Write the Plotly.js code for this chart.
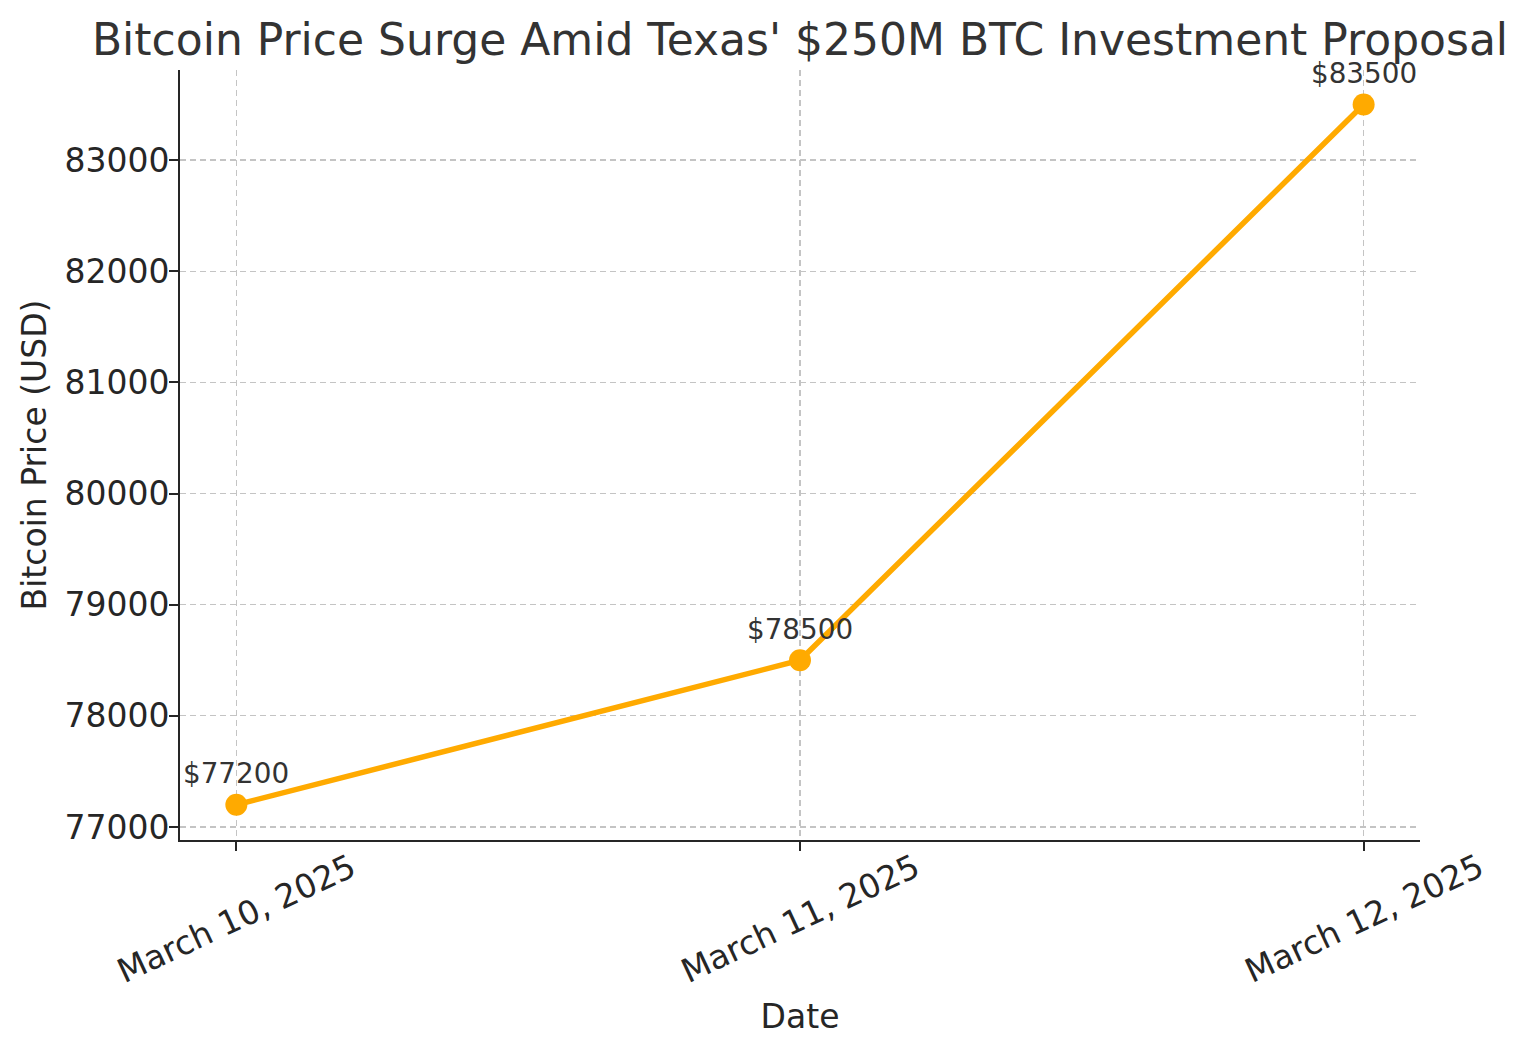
<!DOCTYPE html>
<html>
<head>
<meta charset="utf-8">
<script src="https://cdn.plot.ly/plotly-3.0.1.min.js"></script>
<style>
  html, body { margin: 0; padding: 0; background: #fff; }
  #chart { width: 1536px; height: 1054px; }
</style>
</head>
<body>
<div id="chart"></div>
<script>
const dates = ["March 10, 2025", "March 11, 2025", "March 12, 2025"];
const prices = [77200, 78500, 83500];
const yTicks = [77000, 78000, 79000, 80000, 81000, 82000, 83000];

const lineColor = "#FFAA00";
const dark = "#262626";
const font = "DejaVu Sans, sans-serif";

const trace = {
  x: dates,
  y: prices,
  type: "scatter",
  mode: "lines+markers",
  line: { color: lineColor, width: 5.5 },
  marker: { color: lineColor, size: 22 },
  hoverinfo: "skip"
};

const annotations = [];
dates.forEach((d, i) => {
  annotations.push({
    x: d, y: prices[i], xref: "x", yref: "y",
    text: "$" + prices[i],
    showarrow: false,
    xanchor: "center", yanchor: "middle",
    yshift: 31,
    font: { family: font, size: 27.8, color: "#333333" }
  });
  annotations.push({
    x: d, y: -0.1013, xref: "x", yref: "paper",
    text: d,
    showarrow: false,
    textangle: -25,
    xanchor: "center", yanchor: "middle",
    font: { family: font, size: 33, color: dark }
  });
});

const layout = {
  width: 1536,
  height: 1054,
  margin: { l: 180, r: 116, t: 70, b: 214 },
  paper_bgcolor: "#ffffff",
  plot_bgcolor: "#ffffff",
  showlegend: false,
  font: { family: font, color: dark },
  title: {
    text: "Bitcoin Price Surge Amid Texas' $250M BTC Investment Proposal",
    font: { family: font, size: 44, color: "#333333" },
    x: 0.5, xanchor: "center", xref: "paper",
    y: 0.962, yanchor: "middle", yref: "container"
  },
  xaxis: {
    type: "category",
    range: [-0.1, 2.1],
    showticklabels: false,
    ticks: "outside", ticklen: 9, tickwidth: 2, tickcolor: dark,
    showline: true, linecolor: dark, linewidth: 2, mirror: false,
    showgrid: true, gridcolor: "#c4c4c4", gridwidth: 1.3, griddash: "6px,4px",
    zeroline: false,
    title: { text: "Date", font: { family: font, size: 33, color: dark }, standoff: 155 }
  },
  yaxis: {
    range: [76883, 83810],
    tickvals: yTicks,
    ticktext: yTicks.map(String),
    ticks: "outside", ticklen: 9, tickwidth: 2, tickcolor: dark,
    ticklabelstandoff: -7,
    tickfont: { family: font, size: 33, color: dark },
    showline: true, linecolor: dark, linewidth: 2, mirror: false,
    showgrid: true, gridcolor: "#c4c4c4", gridwidth: 1.3, griddash: "6px,4px",
    zeroline: false,
    title: { text: "Bitcoin Price (USD)", font: { family: font, size: 33, color: dark }, standoff: 8 }
  },
  annotations: annotations
};

Plotly.newPlot("chart", [trace], layout, { staticPlot: true, displayModeBar: false });
</script>
</body>
</html>
